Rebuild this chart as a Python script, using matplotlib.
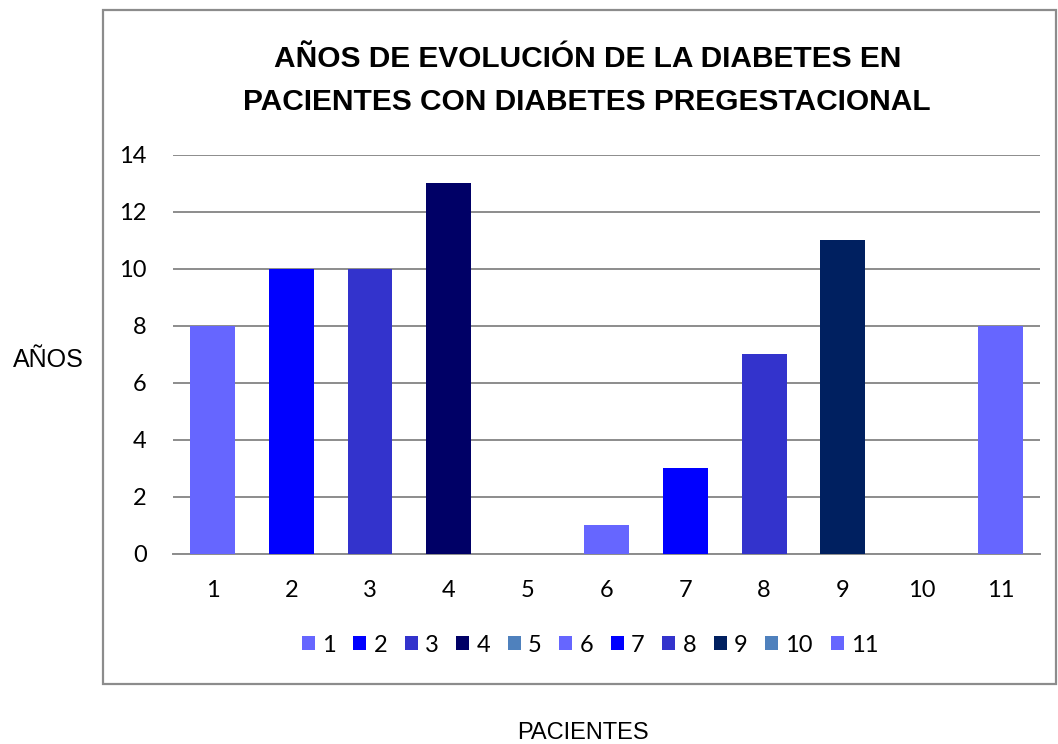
import matplotlib.pyplot as plt
from matplotlib.patches import Patch, Rectangle

pacientes = ["1", "2", "3", "4", "5", "6", "7", "8", "9", "10", "11"]
anos = [8, 10, 10, 13, 0, 1, 3, 7, 11, 0, 8]
colores = ["#6666FF", "#0000FF", "#3333CC", "#000066", "#4F81BD", "#6666FF",
           "#0000FF", "#3333CC", "#002060", "#4F81BD", "#6666FF"]

fig = plt.figure(figsize=(10.58, 7.44), dpi=100)
ax = fig.add_axes([0.1635, 0.2554, 0.8195, 0.5363])

x = range(len(pacientes))
ax.bar(x, anos, width=0.57, color=colores, zorder=3)

ax.set_xlim(-0.5, len(pacientes) - 0.5)
ax.set_ylim(0, 14)
ax.set_yticks(range(0, 15, 2))
ax.set_xticks(list(x))
ax.set_xticklabels(pacientes)
ax.grid(axis="y", color="#8c8c8c", linewidth=1.4, zorder=0)
for s in ["top", "right", "left"]:
    ax.spines[s].set_visible(False)
ax.spines["bottom"].set_color("#8c8c8c")
ax.spines["bottom"].set_linewidth(1.4)
ax.tick_params(length=0, labelsize=17)
ax.tick_params(axis="x", pad=19)
ax.tick_params(axis="y", pad=19)
for lbl in ax.get_xticklabels() + ax.get_yticklabels():
    lbl.set_family("Lato")

# outer chart frame
fig.patches.append(Rectangle((103 / 1058, 1 - 684 / 744), 953 / 1058, 674 / 744,
                             transform=fig.transFigure, fill=False,
                             edgecolor="#8c8c8c", linewidth=1.6))

fig.text(0.555, 0.892, "AÑOS DE EVOLUCIÓN DE LA DIABETES EN\nPACIENTES CON DIABETES PREGESTACIONAL",
         ha="center", va="center", fontsize=21.5, fontweight="bold",
         family="Liberation Sans", linespacing=1.68)

fig.text(48 / 1058, 1 - 360 / 744, "AÑOS", ha="center", va="center",
         fontsize=18, family="Liberation Sans")
fig.text(583 / 1058, 1 - 733 / 744, "PACIENTES", ha="center", va="center",
         fontsize=17, family="Liberation Sans")

handles = [Patch(facecolor=c, label=p) for c, p in zip(colores, pacientes)]
leg = fig.legend(handles=handles, loc="center", ncol=11,
                 bbox_to_anchor=(590 / 1058, 1 - 645 / 744), frameon=False,
                 handlelength=0.55, handleheight=0.55, handletextpad=0.3,
                 columnspacing=0.75, prop={"family": "Lato", "size": 17})

fig.savefig("out.png", dpi=100)
